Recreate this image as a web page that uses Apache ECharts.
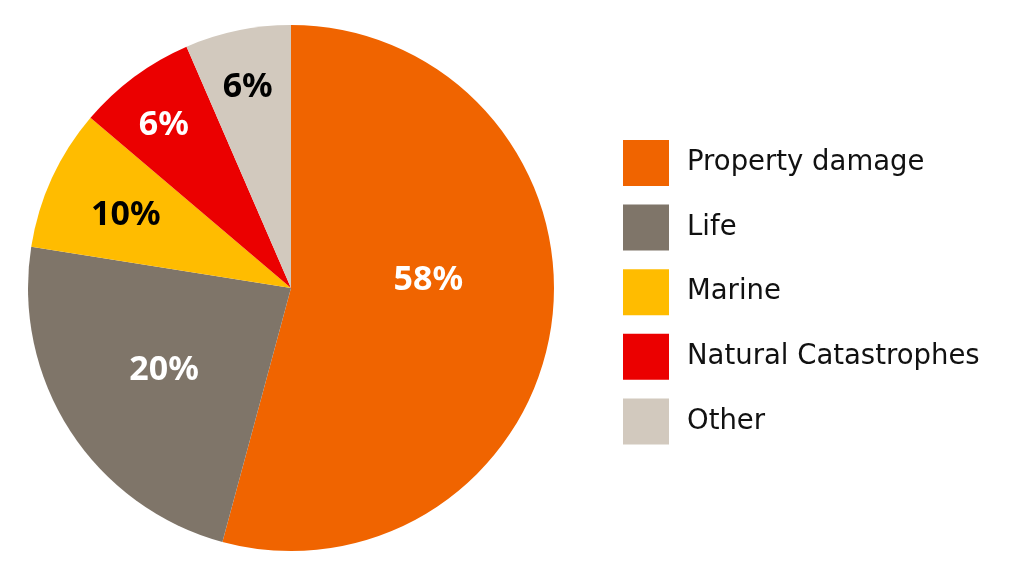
<!DOCTYPE html>
<html>
<head>
<meta charset="utf-8">
<script src="https://cdn.jsdelivr.net/npm/echarts@6/dist/echarts.min.js"></script>
<style>html,body{margin:0;padding:0;background:#fff}#c{width:1024px;height:576px}</style>
</head>
<body>
<div id="c"></div>
<script>
const categories = ['Property damage', 'Life', 'Marine', 'Natural Catastrophes', 'Other'];
const values = [54.2, 23.3, 8.7, 7.3, 6.5];
const labels = ['58%', '20%', '10%', '6%', '6%'];
const colors = ['#F06400', '#7F7569', '#FFBC00', '#EB0000', '#D2C9BE'];
const labelColors = ['#ffffff', '#ffffff', '#000000', '#ffffff', '#000000'];
const labelShift = [[4, -25], [-14, 9], [-43, -17], [-47, -55], [-16, -69]];

const chart = echarts.init(document.getElementById('c'), null, {renderer: 'canvas'});
chart.setOption({
  animation: false,
  backgroundColor: '#ffffff',
  legend: {
    orient: 'vertical',
    left: 623,
    top: 140,
    padding: 0,
    itemWidth: 46,
    itemHeight: 46,
    itemGap: 18.6,
    icon: 'rect',
    data: categories,
    textStyle: {
      fontFamily: 'DejaVu Sans',
      fontSize: 27.5,
      color: '#111111',
      padding: [0, 0, 0, 13]
    }
  },
  series: [{
    type: 'pie',
    center: [291, 288],
    radius: [0, 263],
    startAngle: 90,
    clockwise: true,
    avoidLabelOverlap: false,
    label: {
      show: true,
      position: 'inside',
      fontFamily: '"Noto Sans", "Open Sans", sans-serif',
      fontWeight: 'bold',
      fontSize: 34,
      formatter: p => labels[p.dataIndex]
    },
    labelLine: {show: false},
    labelLayout: p => ({dx: labelShift[p.dataIndex][0], dy: labelShift[p.dataIndex][1]}),
    emphasis: {disabled: true},
    data: categories.map((c, i) => ({
      name: c,
      value: values[i],
      itemStyle: {color: colors[i]},
      label: {color: labelColors[i]}
    }))
  }]
});
</script>
</body>
</html>
